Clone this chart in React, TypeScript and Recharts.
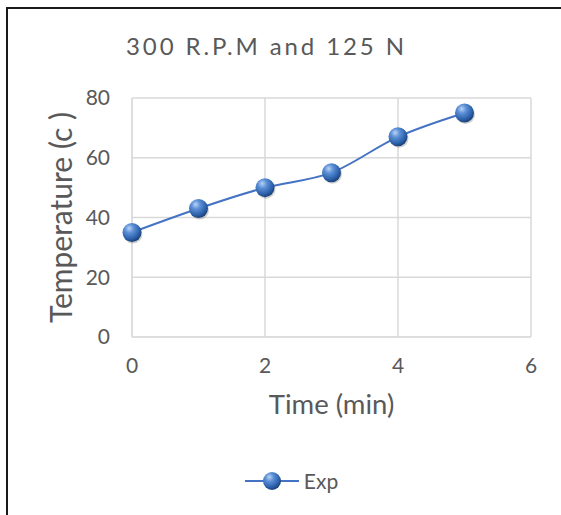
import React from "react";
import {
  LineChart,
  Line,
  XAxis,
  YAxis,
  CartesianGrid,
  Legend,
  Label,
} from "recharts";

const TIMES = [0, 1, 2, 3, 4, 5];
const TEMPS = [35, 43, 50, 55, 67, 75];
const X_TICKS = [0, 2, 4, 6];
const Y_TICKS = [0, 20, 40, 60, 80];

const DATA = TIMES.map((t, i) => ({ time: t, exp: TEMPS[i] }));

const FONT = "Lato, 'Open Sans', sans-serif";
const TEXT = "#595959";
const BLUE = "#4472c4";

const SphereDefs = ({ id }: { id: string }) => (
  <defs>
    <radialGradient id={id} cx="38%" cy="32%" r="68%" fx="35%" fy="28%">
      <stop offset="0%" stopColor="#b9d3f5" />
      <stop offset="35%" stopColor="#5b8fd6" />
      <stop offset="80%" stopColor="#2a5ea8" />
      <stop offset="100%" stopColor="#1c4278" />
    </radialGradient>
  </defs>
);

const Sphere = (props: any) => {
  const { cx, cy } = props;
  if (cx == null || cy == null) return null;
  return (
    <g>
      <circle cx={cx + 1} cy={cy + 1.5} r={9.5} fill="rgba(0,0,0,0.18)" />
      <circle cx={cx} cy={cy} r={9.5} fill="url(#sphereGrad)" />
    </g>
  );
};

const LegendContent = () => (
  <div
    style={{
      display: "flex",
      alignItems: "center",
      justifyContent: "center",
      paddingLeft: 52,
      fontFamily: FONT,
      fontSize: 21,
      color: TEXT,
    }}
  >
    <svg width={54} height={22}>
      <SphereDefs id="sphereGradLegend" />
      <line x1={0} y1={11} x2={54} y2={11} stroke={BLUE} strokeWidth={2} />
      <circle cx={27} cy={11} r={9} fill="url(#sphereGradLegend)" />
    </svg>
    <span style={{ marginLeft: 5 }}>Exp</span>
  </div>
);

export default function App() {
  return (
    <div
      style={{
        position: "absolute",
        left: 0,
        top: 0,
        width: 561,
        height: 515,
        background: "#fff",
        overflow: "hidden",
      }}
    >
      <div
        style={{
          position: "absolute",
          left: 6,
          top: 7,
          width: 600,
          height: 600,
          borderTop: "2px solid #1a1a1a",
          borderLeft: "2px solid #1a1a1a",
        }}
      />
      <div
        style={{
          position: "absolute",
          left: 0,
          top: 31,
          width: 533,
          textAlign: "center",
          fontFamily: FONT,
          fontSize: 24,
          letterSpacing: 2.9,
          color: TEXT,
        }}
      >
        300 R.P.M and 125 N
      </div>
      <div style={{ position: "absolute", left: 0, top: 0 }}>
        <LineChart
          width={561}
          height={515}
          data={DATA}
          margin={{ top: 98, right: 30, bottom: 17, left: 0 }}
        >
          <SphereDefs id="sphereGrad" />
          <CartesianGrid stroke="#d9d9d9" strokeWidth={1.5} />
          <XAxis
            dataKey="time"
            type="number"
            domain={[0, 6]}
            ticks={X_TICKS}
            height={131}
            axisLine={{ stroke: "#d9d9d9" }}
            tickLine={false}
            tickSize={0}
            tickMargin={21}
            tick={{ fill: TEXT, fontSize: 21, fontFamily: FONT }}
          >
            <Label
              value="Time (min)"
              position="insideTop"
              offset={57}
              fill={TEXT}
              fontSize={27.5}
              fontFamily={FONT}
            />
          </XAxis>
          <YAxis
            type="number"
            domain={[0, 80]}
            ticks={Y_TICKS}
            width={132}
            axisLine={{ stroke: "#d9d9d9" }}
            tickLine={false}
            tickSize={0}
            tickMargin={22}
            tick={{ fill: TEXT, fontSize: 21, fontFamily: FONT }}
          >
            <Label
              value="Temperature (c )"
              angle={-90}
              position="center"
              dx={-5}
              fill={TEXT}
              fontSize={30}
              fontFamily={FONT}
            />
          </YAxis>
          <Legend verticalAlign="bottom" height={30} content={<LegendContent />} />
          <Line
            type="monotone"
            dataKey="exp"
            stroke={BLUE}
            strokeWidth={2}
            dot={<Sphere />}
            activeDot={false}
            isAnimationActive={false}
          />
        </LineChart>
      </div>
    </div>
  );
}
